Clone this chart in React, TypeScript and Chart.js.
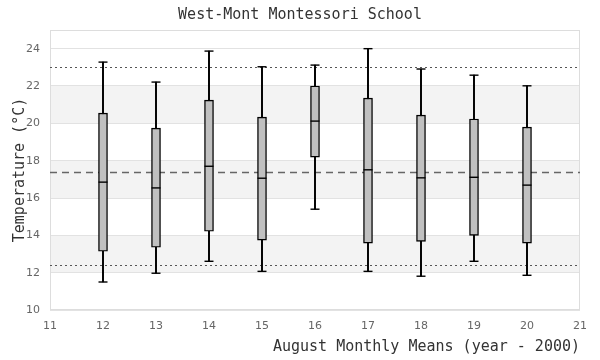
import React, { useEffect, useRef } from "react";
import { Chart, registerables } from "chart.js";

Chart.register(...registerables);

const years = [12, 13, 14, 15, 16, 17, 18, 19, 20];
const mins = [11.5, 11.97, 12.61, 12.07, 15.4, 12.07, 11.81, 12.61, 11.86];
const q1s = [13.15, 13.36, 14.22, 13.74, 18.19, 13.58, 13.68, 14.0, 13.58];
const medians = [16.85, 16.54, 17.7, 17.06, 20.12, 17.51, 17.08, 17.11, 16.69];
const q3s = [20.55, 19.74, 21.24, 20.33, 22.0, 21.35, 20.44, 20.23, 19.8];
const maxs = [23.28, 22.21, 23.87, 23.03, 23.12, 24.0, 22.91, 22.58, 22.01];

const upperLimit = 23.0;
const overallMean = 17.38;
const lowerLimit = 12.4;

const bandRanges: [number, number][] = [
  [12, 14],
  [16, 18],
  [20, 22],
];

const titleText = "West-Mont Montessori School";
const xTitle = "August Monthly Means (year - 2000)";
const yTitle = "Temperature (°C)";

const MONO = "'DejaVu Sans Mono', monospace";
const SANS = "'DejaVu Sans', sans-serif";

const decorPlugin = {
  id: "decor",
  beforeDraw(chart: any) {
    const { ctx, chartArea, scales } = chart;
    const y = scales.y;
    ctx.save();
    ctx.fillStyle = "#f3f3f3";
    for (const [a, b] of bandRanges) {
      const p1 = y.getPixelForValue(b);
      const p2 = y.getPixelForValue(a);
      ctx.fillRect(chartArea.left, p1, chartArea.right - chartArea.left, p2 - p1);
    }
    ctx.restore();
  },
  beforeDatasetsDraw(chart: any) {
    const { ctx, chartArea, scales } = chart;
    const y = scales.y;
    ctx.save();
    ctx.strokeStyle = "#dddddd";
    ctx.lineWidth = 1;
    ctx.strokeRect(
      chartArea.left + 0.5,
      chartArea.top + 0.5,
      chartArea.right - chartArea.left - 1,
      chartArea.bottom - chartArea.top - 1
    );
    const line = (v: number, dash: number[], color: string, w: number) => {
      const p = Math.round(y.getPixelForValue(v)) + 0.5;
      ctx.beginPath();
      ctx.setLineDash(dash);
      ctx.strokeStyle = color;
      ctx.lineWidth = w;
      ctx.moveTo(chartArea.left, p);
      ctx.lineTo(chartArea.right, p);
      ctx.stroke();
    };
    line(upperLimit, [2, 3], "#555", 1);
    line(lowerLimit, [2, 3], "#555", 1);
    line(overallMean, [7, 5], "#666", 1.3);
    ctx.restore();
  },
};

export default function App() {
  const ref = useRef<HTMLCanvasElement | null>(null);

  useEffect(() => {
    if (!ref.current) return;
    const chart = new Chart(ref.current, {
      type: "bar",
      data: {
        datasets: [
          {
            type: "bar",
            label: "whiskers",
            data: years.map((x, i) => ({ x, y: [mins[i], maxs[i]] })) as any,
            backgroundColor: "#000",
            borderWidth: 0,
            barThickness: 1.3,
            grouped: false,
            order: 4,
          } as any,
          {
            type: "bar",
            label: "boxes",
            data: years.map((x, i) => ({ x, y: [q1s[i], q3s[i]] })) as any,
            backgroundColor: "#c0c0c0",
            borderColor: "#000",
            borderWidth: 1.4,
            borderSkipped: false,
            barThickness: 9,
            grouped: false,
            order: 3,
          } as any,
          {
            type: "line",
            label: "caps",
            data: [
              ...years.map((x, i) => ({ x, y: mins[i] })),
              ...years.map((x, i) => ({ x, y: maxs[i] })),
            ],
            showLine: false,
            pointStyle: "line",
            pointRadius: 4.5,
            pointBorderWidth: 1.4,
            borderColor: "#000",
            backgroundColor: "#000",
            order: 2,
          } as any,
          {
            type: "line",
            label: "medians",
            data: years.map((x, i) => ({ x, y: medians[i] })),
            showLine: false,
            pointStyle: "line",
            pointRadius: 4.5,
            pointBorderWidth: 1.4,
            borderColor: "#000",
            backgroundColor: "#000",
            order: 1,
          } as any,
        ],
      },
      options: {
        animation: false,
        responsive: false,
        maintainAspectRatio: false,
        layout: { padding: 0 },
        plugins: {
          legend: { display: false },
          tooltip: { enabled: false },
          title: {
            display: true,
            text: titleText,
            color: "#333",
            font: { family: MONO, size: 15, weight: "normal" as any },
            padding: { top: 6, bottom: 6 },
          },
        },
        scales: {
          x: {
            type: "linear",
            min: 11,
            max: 21,
            offset: false,
            ticks: {
              stepSize: 1,
              color: "#666",
              font: { family: SANS, size: 11 },
              padding: 10,
              maxRotation: 0,
            },
            grid: { display: false, drawTicks: false },
            border: { display: false },
            title: {
              display: true,
              text: xTitle,
              align: "end",
              color: "#333",
              font: { family: MONO, size: 15, weight: "normal" as any },
              padding: { top: 0, bottom: 4 },
            },
            afterFit(scale: any) {
              scale.height = 50;
            },
          } as any,
          y: {
            type: "linear",
            min: 10,
            max: 25,
            ticks: {
              stepSize: 2,
              color: "#666",
              font: { family: SANS, size: 11 },
              padding: 10,
              callback: (v: any) => (Number(v) === 25 ? "" : String(v)),
            },
            grid: { color: "#e2e2e2", drawTicks: false, lineWidth: 1 },
            border: { display: false },
            title: {
              display: true,
              text: yTitle,
              color: "#333",
              font: { family: MONO, size: 15, weight: "normal" as any },
              padding: { top: 11, bottom: 0 },
            },
            afterFit(scale: any) {
              scale.width = 50;
            },
          } as any,
          yRight: {
            type: "linear",
            position: "right",
            display: true,
            min: 10,
            max: 25,
            ticks: { display: false },
            grid: { display: false, drawTicks: false },
            border: { display: false },
            afterFit(scale: any) {
              scale.width = 20;
            },
          } as any,
        },
      },
      plugins: [decorPlugin],
    });
    return () => chart.destroy();
  }, []);

  return (
    <div style={{ position: "fixed", left: 0, top: 0, width: 600, height: 360, background: "#fff" }}>
      <canvas ref={ref} width={600} height={360} style={{ width: 600, height: 360 }} />
    </div>
  );
}
